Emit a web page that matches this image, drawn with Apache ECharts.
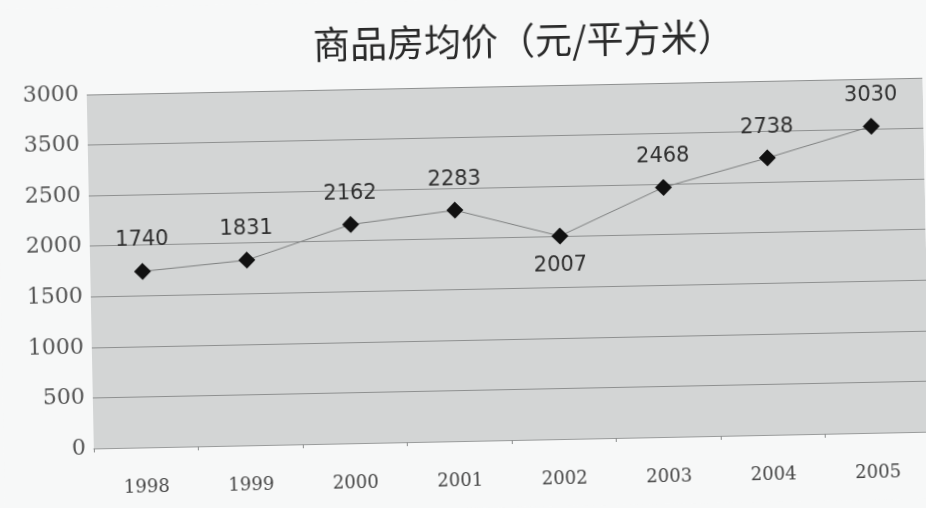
<!DOCTYPE html>
<html>
<head>
<meta charset="utf-8">
<script src="https://cdn.jsdelivr.net/npm/echarts@6/dist/echarts.min.js"></script>
<style>
  html, body { margin: 0; padding: 0; background: #f7f8f8; overflow: hidden; }
  #chart { width: 926px; height: 508px; transform: rotate(-1.15deg); transform-origin: 50% 50%; }
</style>
</head>
<body>
<div id="chart"></div>
<script>
// Average price of commercial housing, yuan per square metre
const years = ['1998', '1999', '2000', '2001', '2002', '2003', '2004', '2005'];
const prices = [1740, 1831, 2162, 2283, 2007, 2468, 2738, 3030];
// Value-axis tick labels, in printed order from 0 upward
const yTickLabels = ['0', '500', '1000', '1500', '2000', '2500', '3500', '3000'];
const yStep = 500;

const chart = echarts.init(document.getElementById('chart'), null, { renderer: 'canvas' });

chart.setOption({
  backgroundColor: '#f7f8f8',
  animation: false,
  title: {
    text: '商品房均价（元/平方米）',
    left: 523,
    top: 18,
    textAlign: 'center',
    textStyle: {
      fontFamily: '"Noto Sans CJK SC", sans-serif',
      fontSize: 37,
      fontWeight: 'normal',
      color: '#2a2a2a'
    }
  },
  grid: {
    left: 90,
    top: 87,
    width: 844,
    height: 354,
    show: true,
    backgroundColor: '#d3d5d5',
    borderWidth: 0
  },
  xAxis: {
    type: 'category',
    data: years,
    boundaryGap: true,
    axisLine: { show: true, lineStyle: { color: '#9a9c9c', width: 1 } },
    axisTick: { show: true, length: 4, lineStyle: { color: '#8a8c8c' } },
    axisLabel: {
      margin: 31,
      fontFamily: '"DejaVu Serif", "Liberation Serif", serif',
      fontSize: 18,
      color: '#444'
    }
  },
  yAxis: {
    type: 'value',
    min: 0,
    max: 3500,
    interval: yStep,
    axisLine: { show: false },
    axisTick: { show: false },
    splitLine: { show: true, lineStyle: { color: '#8e9090', width: 1 } },
    axisLabel: {
      margin: 8,
      fontFamily: '"DejaVu Serif", "Liberation Serif", serif',
      fontSize: 22,
      color: '#555',
      formatter: function (v) {
        const i = Math.round(v / yStep);
        return yTickLabels[i] !== undefined ? yTickLabels[i] : '';
      }
    }
  },
  series: [{
    type: 'line',
    data: prices.map(function (v, i) {
      const item = { value: v };
      if (years[i] === '2002') {
        item.label = { position: 'bottom', distance: 11 };
      }
      return item;
    }),
    symbol: 'diamond',
    symbolSize: 17,
    itemStyle: { color: '#111' },
    lineStyle: { color: '#7e8080', width: 1 },
    label: {
      show: true,
      position: 'top',
      distance: 12,
      fontFamily: '"DejaVu Sans", "Noto Sans", sans-serif',
      fontSize: 21,
      color: '#303030'
    }
  }]
});
</script>
</body>
</html>
